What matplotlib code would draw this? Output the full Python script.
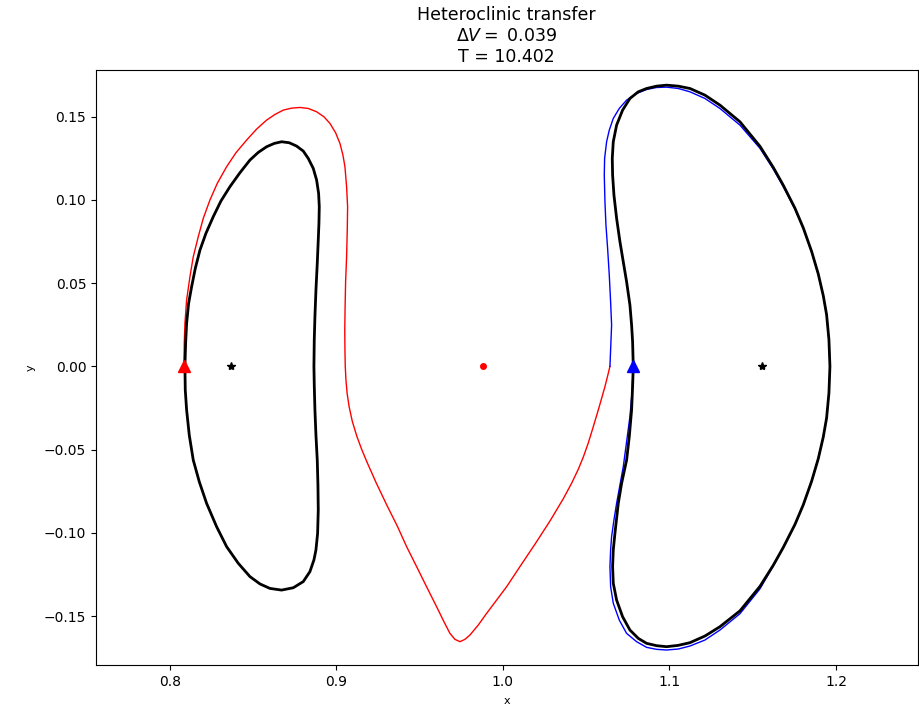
import matplotlib
matplotlib.use("Agg")
import matplotlib.pyplot as plt

# Lyapunov orbit around L1 (black, left)
l1_orbit_x = [0.80918, 0.80959, 0.81019, 0.81139, 0.81319, 0.81539, 0.81819, 0.82179, 0.82619, 0.83079,
              0.83619, 0.84220, 0.84820, 0.85320, 0.85820, 0.86280, 0.86721, 0.87181, 0.87621, 0.88021,
              0.88321, 0.88621, 0.88822, 0.88942, 0.88982, 0.88962, 0.88921, 0.88861, 0.88782, 0.88721,
              0.88681, 0.88661, 0.88681, 0.88721, 0.88782, 0.88861, 0.88902, 0.88921, 0.88882, 0.88782,
              0.88661, 0.88421, 0.88021, 0.87421, 0.86721, 0.86020, 0.85420, 0.84820, 0.84119, 0.83420,
              0.82819, 0.82219, 0.81779, 0.81418, 0.81178, 0.81019, 0.80938, 0.80918]
l1_orbit_y = [0.0000, 0.0138, 0.0258, 0.0378, 0.0478, 0.0588, 0.0698, 0.0799, 0.0899, 0.0993,
              0.1079, 0.1163, 0.1239, 0.1285, 0.1319, 0.1339, 0.1349, 0.1343, 0.1323, 0.1293,
              0.1249, 0.1189, 0.1119, 0.1039, 0.0959, 0.0859, 0.0759, 0.0618, 0.0458, 0.0298,
              0.0158, 0.0000, -0.0112, -0.0262, -0.0413, -0.0563, -0.0713, -0.0863, -0.1003, -0.1103,
              -0.1163, -0.1233, -0.1293, -0.1330, -0.1344, -0.1334, -0.1307, -0.1263, -0.1183, -0.1083,
              -0.0963, -0.0823, -0.0693, -0.0563, -0.0413, -0.0262, -0.0142, 0.0000]

# Lyapunov orbit around L2 (black, right)
l2_orbit_x = [1.07829, 1.07789, 1.07729, 1.07629, 1.07429, 1.07229, 1.07029, 1.06829, 1.06669, 1.06589,
              1.06569, 1.06629, 1.06829, 1.07189, 1.07629, 1.08129, 1.08630, 1.09230, 1.09830, 1.10530,
              1.11231, 1.12131, 1.13031, 1.14232, 1.15432, 1.16232, 1.16832, 1.17533, 1.18033, 1.18535,
              1.18933, 1.19233, 1.19434, 1.19574, 1.19634, 1.19574, 1.19434, 1.19233, 1.18933, 1.18535,
              1.18033, 1.17533, 1.16832, 1.16232, 1.15432, 1.14232, 1.13031, 1.12131, 1.11231, 1.10530,
              1.09830, 1.09230, 1.08630, 1.08129, 1.07629, 1.07189, 1.06829, 1.06629, 1.06589, 1.06629,
              1.06729, 1.06929, 1.07129, 1.07429, 1.07589, 1.07729, 1.07789, 1.07829]
l2_orbit_y = [0.0000, 0.0148, 0.0248, 0.0368, 0.0508, 0.0628, 0.0749, 0.0889, 0.1029, 0.1149,
              0.1249, 0.1349, 0.1449, 0.1539, 0.1609, 0.1649, 0.1669, 0.1683, 0.1689, 0.1683,
              0.1669, 0.1629, 0.1569, 0.1469, 0.1322, 0.1195, 0.1088, 0.0950, 0.0832, 0.0690,
              0.0555, 0.0425, 0.0310, 0.0160, 0.0000, -0.0160, -0.0310, -0.0425, -0.0555, -0.0690,
              -0.0832, -0.0950, -0.1088, -0.1195, -0.1322, -0.1469, -0.1564, -0.1620, -0.1660, -0.1676,
              -0.1684, -0.1678, -0.1664, -0.1634, -0.1584, -0.1504, -0.1404, -0.1303, -0.1203, -0.1103,
              -0.1003, -0.0823, -0.0703, -0.0563, -0.0423, -0.0262, -0.0122, 0.0000]

# Unstable manifold leg leaving the L1 orbit (red)
unstable_x = [0.80858, 0.80878, 0.80918, 0.81019, 0.81218, 0.81418, 0.81719, 0.82019, 0.82419, 0.82859,
              0.83420, 0.83980, 0.84620, 0.85220, 0.85820, 0.86321, 0.86821, 0.87321, 0.87821, 0.88321,
              0.88822, 0.89262, 0.89622, 0.89962, 0.90222, 0.90402, 0.90522, 0.90622, 0.90682, 0.90662,
              0.90622, 0.90562, 0.90532, 0.90512, 0.90522, 0.90542, 0.90583, 0.90653, 0.90772, 0.90963,
              0.91236, 0.91532, 0.91857, 0.92404, 0.93047, 0.93677, 0.94224, 0.94824, 0.95424, 0.96025,
              0.96465, 0.96825, 0.97125, 0.97425, 0.97725, 0.98025, 0.98525, 0.99026, 0.99626, 1.00226,
              1.01026, 1.01930, 1.02830, 1.03630, 1.04130, 1.04530, 1.04830, 1.05130, 1.05428, 1.05788,
              1.06129, 1.06329, 1.06429]
unstable_y = [0.0000, 0.0138, 0.0258, 0.0398, 0.0538, 0.0658, 0.0779, 0.0889, 0.0999, 0.1099,
              0.1199, 0.1283, 0.1359, 0.1425, 0.1479, 0.1513, 0.1539, 0.1551, 0.1555, 0.1549,
              0.1529, 0.1499, 0.1459, 0.1403, 0.1339, 0.1269, 0.1199, 0.1079, 0.0959, 0.0819,
              0.0658, 0.0508, 0.0358, 0.0218, 0.0098, 0.0000, -0.0082, -0.0162, -0.0242, -0.0330,
              -0.0420, -0.0500, -0.0578, -0.0701, -0.0836, -0.0962, -0.1083, -0.1203, -0.1324, -0.1444,
              -0.1534, -0.1604, -0.1640, -0.1654, -0.1640, -0.1614, -0.1554, -0.1484, -0.1404, -0.1324,
              -0.1203, -0.1068, -0.0929, -0.0795, -0.0702, -0.0618, -0.0545, -0.0460, -0.0363, -0.0242,
              -0.0122, -0.0042, 0.0000]

# Stable manifold leg reaching the L2 orbit (blue)
stable_x = [1.06429, 1.06489, 1.06529, 1.06469, 1.06389, 1.06289, 1.06189, 1.06129, 1.06089, 1.06109,
            1.06229, 1.06389, 1.06629, 1.06989, 1.07429, 1.08030, 1.08630, 1.09230, 1.09830, 1.10530,
            1.11231, 1.12131, 1.13031, 1.14232, 1.15432, 1.16232, 1.16832, 1.17533, 1.18033, 1.18535,
            1.18933, 1.19233, 1.19434, 1.19574, 1.19634, 1.19574, 1.19434, 1.19233, 1.18933, 1.18535,
            1.18033, 1.17533, 1.16832, 1.16232, 1.15432, 1.14232, 1.13031, 1.12131, 1.11231, 1.10530,
            1.09830, 1.09230, 1.08630, 1.08030, 1.07429, 1.06989, 1.06629, 1.06469, 1.06429, 1.06469,
            1.06529, 1.06669, 1.06829, 1.07029, 1.07229, 1.07429, 1.07629, 1.07749, 1.07829]
stable_y = [0.0000, 0.0148, 0.0248, 0.0388, 0.0548, 0.0709, 0.0849, 0.0989, 0.1149, 0.1249,
            0.1349, 0.1419, 0.1489, 0.1549, 0.1599, 0.1639, 0.1663, 0.1675, 0.1677, 0.1669,
            0.1649, 0.1609, 0.1549, 0.1449, 0.1310, 0.1185, 0.1080, 0.0945, 0.0828, 0.0687,
            0.0553, 0.0424, 0.0309, 0.0160, 0.0000, -0.0160, -0.0310, -0.0425, -0.0555, -0.0690,
            -0.0832, -0.0950, -0.1088, -0.1199, -0.1337, -0.1486, -0.1584, -0.1644, -0.1680, -0.1698,
            -0.1704, -0.1700, -0.1688, -0.1654, -0.1604, -0.1524, -0.1423, -0.1323, -0.1203, -0.1103,
            -0.1023, -0.0923, -0.0823, -0.0713, -0.0603, -0.0453, -0.0302, -0.0162, 0.0000]

# Special points
lagrange_x = [0.8369, 1.1557]
lagrange_y = [0.0, 0.0]
moon_x, moon_y = 0.98785, 0.0
dep_x, dep_y = 0.8089, 0.0
arr_x, arr_y = 1.0783, 0.0

delta_v = 0.039
tof = 10.402

fig = plt.figure(figsize=(9.19, 7.05), dpi=100)
ax = fig.add_axes([96 / 919, 1 - 665 / 705, (917.5 - 96) / 919, (665 - 70) / 705])

ax.plot(unstable_x, unstable_y, color='red', lw=1)
ax.plot(stable_x, stable_y, color='blue', lw=1)
ax.plot(l1_orbit_x, l1_orbit_y, color='black', lw=2)
ax.plot(l2_orbit_x, l2_orbit_y, color='black', lw=2)
ax.plot(lagrange_x, lagrange_y, '*', color='black', ms=6, ls='none')
ax.plot([moon_x], [moon_y], 'o', color='red', ms=4)
ax.plot([dep_x], [dep_y], '^', color='red', ms=8)
ax.plot([arr_x], [arr_y], '^', color='blue', ms=8)

ax.set_xlim(0.7558, 1.2489)
ax.set_ylim(-0.1794, 0.178)
ax.set_xticks([0.8, 0.9, 1.0, 1.1, 1.2])
ax.set_yticks([-0.15, -0.10, -0.05, 0.00, 0.05, 0.10, 0.15])
ax.set_xlabel('x', fontsize=8, labelpad=5.4)
ax.set_ylabel('y', fontsize=8, labelpad=6.2)
ax.set_title('Heteroclinic transfer\n$\\Delta V = $ %.3f\nT = %.3f' % (delta_v, tof), fontsize=12.5)

fig.savefig('out.png', dpi=100)
